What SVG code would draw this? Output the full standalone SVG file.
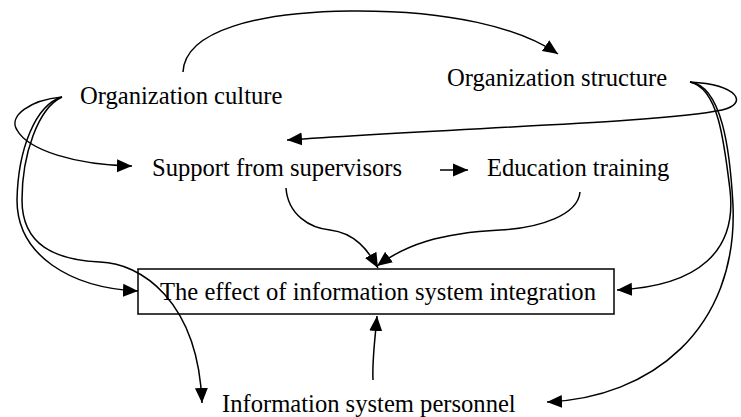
<svg xmlns="http://www.w3.org/2000/svg" width="741" height="417" viewBox="0 0 741 417">
<style>
text{font-family:"Liberation Serif","Times New Roman",serif;font-size:24.6px;fill:#000}
.c{fill:none;stroke:#000;stroke-width:1.5}
.box{fill:#fff;stroke:#000;stroke-width:1.5}
</style>
<defs>
<marker id="a" markerUnits="userSpaceOnUse" markerWidth="16" markerHeight="14" refX="15" refY="7" orient="auto" viewBox="0 0 16 14">
<path d="M0,0.5 L15,7 L0,13.5 z" fill="#000"/>
</marker>
</defs>
<rect width="741" height="417" fill="#fff"/>
<g id="n_box"><rect class="box" x="138" y="269" width="476" height="45"/></g>
<g id="edges">
<path class="c" marker-end="url(#a)" d="M183,72 C185,30 260,12 350,11 C450,10 520,28 558,54"/>
<path class="c" marker-end="url(#a)" d="M62,97 C30,100 8,116 17,130 C28,150 75,165 132,166"/>
<path class="c" marker-end="url(#a)" d="M62,97 C35,105 18,150 17,200 C17,255 70,288 138,291"/>
<path class="c" marker-end="url(#a)" d="M62,97 C38,108 22,155 22,200 C22,245 55,260 100,262 C140,263 198,300 202,403"/>
<path class="c" marker-end="url(#a)" d="M690,82 C740,85 748,104 722,110 C660,123 450,128 287,140"/>
<path class="c" marker-end="url(#a)" d="M690,82 C718,88 724,140 730,190 C737,250 700,286 617,290"/>
<path class="c" marker-end="url(#a)" d="M690,82 C722,86 730,150 733,205 C738,330 650,398 547,402"/>
<path class="c" marker-end="url(#a)" d="M286,188 C288,215 310,228 330,230 C355,233 368,250 378,268"/>
<path class="c" marker-end="url(#a)" d="M580,192 C578,215 540,228 500,230 C440,233 405,245 377,266"/>
<path class="c" marker-end="url(#a)" d="M373,380 C372,360 375,340 377,316"/>
<path class="c" marker-end="url(#a)" d="M440,170 L468,170"/>
</g>
<g id="n_culture"><text x="80" y="104">Organization culture</text></g>
<g id="n_structure"><text x="447" y="86">Organization structure</text></g>
<g id="n_support"><text x="152" y="176">Support from supervisors</text></g>
<g id="n_education"><text x="487" y="176">Education training</text></g>
<g id="n_effect"><text x="160" y="300">The effect of information system integration</text></g>
<g id="n_personnel"><text x="222" y="412">Information system personnel</text></g>
</svg>
